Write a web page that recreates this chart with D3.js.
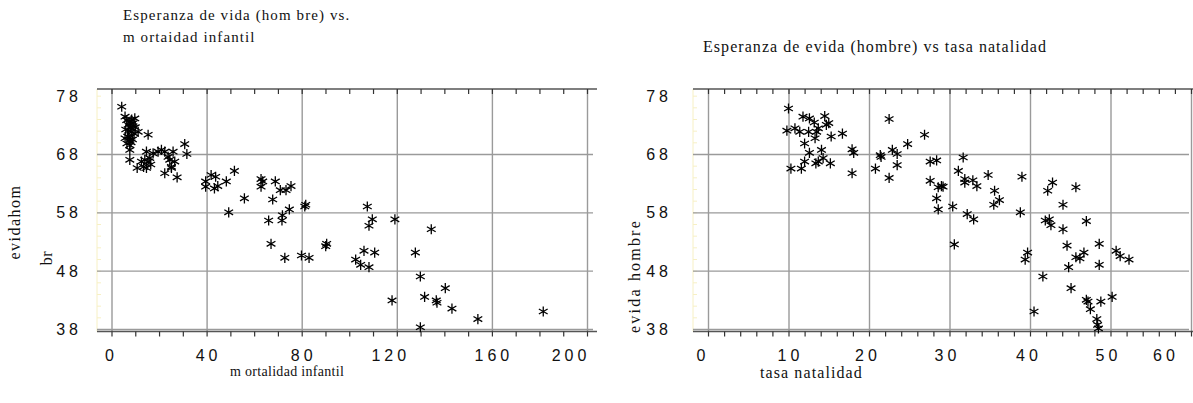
<!DOCTYPE html>
<html><head><meta charset="utf-8">
<script src="https://cdn.jsdelivr.net/npm/d3@7"></script>
<style>body{margin:0;background:#fff}svg{display:block}</style>
</head><body>
<svg id="c" width="1193" height="403"></svg>
<script>
// ---------- data ----------
const mortTicks = [0, 40, 80, 120, 160, 200];
const nataTicks = [0, 10, 20, 30, 40, 50, 60];
const yTicks = [38, 48, 58, 68, 78];
const yGrid = [38, 48, 58, 68];

// Esperanza de vida (hombre) vs mortalidad infantil
const mortalidad = [4.3,5.7,6.4,7.0,7.7,9.1,9.8,8.0,7.2,8.5,9.5,6.8,7.7,8.8,11.2,15.4,5.7,7.7,7.7,7.7,7.7,6.5,8.2,9.0,10.0,6.0,8.5,
  10.8,12.6,14.0,14.7,15.4,14.7,16.1,17.5,19.6,21.0,22.4,23.8,24.5,25.2,25.9,26.6,25.2,22.4,27.6,30.8,31.7,13.5,16.5,
  39.6,39.6,41.9,43.8,43.3,44.7,48.3,51.7,55.9,49.3,
  62.9,63.6,62.9,68.9,71.0,73.4,75.5,67.8,74.8,71.9,71.7,66.1,81.7,81.3,67.1,72.9,79.9,83.1,90.1,90.5,
  107.6,109.7,108.3,119.2,134.5,106.2,110.7,102.7,104.8,108.3,127.8,129.9,140.4,118.0,131.7,136.6,136.9,143.2,154.1,129.9,181.6];
const evidaMort = [76.1,74.4,73.8,73.0,73.5,73.3,74.1,72.5,72.0,71.8,71.5,71.0,70.8,70.5,71.8,71.3,70.7,70.4,69.5,68.7,67.0,69.8,70.0,72.8,72.6,72.2,73.9,
  65.6,66.7,67.0,65.6,66.7,68.4,67.3,68.1,68.4,68.7,68.4,67.5,67.0,65.8,68.4,66.7,65.6,64.7,64.0,69.7,68.0,65.8,66.2,
  63.3,62.4,64.4,64.1,62.1,62.5,63.3,65.1,60.4,58.0,
  63.7,63.3,62.4,63.3,61.8,61.8,62.5,60.2,58.5,57.5,56.6,56.6,59.3,59.0,52.6,50.2,50.6,50.2,52.2,52.6,
  59.0,56.8,55.7,56.8,55.1,51.4,51.1,49.9,49.0,48.6,51.1,47.0,45.0,42.9,43.5,42.9,42.5,41.5,39.7,38.3,41.0];

// Esperanza de vida (hombre) vs tasa natalidad
const natalidad = [10.0,9.8,10.3,10.8,11.4,11.8,11.6,12.0,12.0,12.5,12.6,12.6,13.2,13.3,13.5,13.7,13.4,13.7,14.1,14.3,14.5,14.7,15.0,15.2,15.3,16.7,17.9,18.1,17.9,
  20.8,21.4,21.5,22.5,22.5,22.9,23.5,23.5,24.8,26.9,27.6,28.4,27.6,28.6,29.0,29.2,28.4,28.6,30.4,30.6,31.7,31.1,31.9,31.9,32.2,33.0,32.9,33.4,34.8,35.6,35.5,36.2,
  39.0,38.8,39.7,39.4,40.5,41.6,42.2,42.8,41.9,42.4,42.6,44.1,44.1,44.6,44.8,45.1,45.7,45.7,46.2,46.7,47.0,47.0,47.2,47.5,48.6,48.6,48.8,48.3,48.4,48.5,50.2,50.7,51.2,52.3];
const evidaNata = [75.8,72.0,65.5,72.4,71.8,74.4,65.5,69.8,66.7,71.8,74.1,68.2,73.4,70.7,71.8,72.4,66.4,66.7,68.7,67.3,74.5,73.0,73.3,66.4,71.0,71.5,68.8,68.2,64.7,
  65.5,67.8,67.5,74.0,63.9,68.7,68.0,66.1,69.7,71.3,66.7,66.9,63.4,62.3,62.5,62.4,60.4,58.5,59.0,52.5,67.4,65.1,63.7,63.1,57.7,56.8,63.5,62.5,64.4,61.7,59.3,60.1,
  64.1,58.0,51.1,49.9,41.0,47.0,61.7,63.1,56.6,56.8,55.8,59.3,55.1,52.3,48.6,45.0,62.3,50.3,50.1,51.1,56.5,43.0,42.7,41.4,52.6,49.0,42.7,39.7,38.7,38.1,43.5,51.4,50.5,49.9];

// ---------- drawing ----------
const svg = d3.select("#c");
const TOP = 89, BOT = 331.5;
const y = d3.scaleLinear().domain([38, 68]).range([329, 154]);

const asterisk = d3.symbolAsterisk || {
  draw(ctx, size) {
    const r = Math.sqrt(size) * 0.6;
    for (let a = 0; a < 3; a++) {
      const t = Math.PI / 2 + a * Math.PI / 3;
      ctx.moveTo(r * Math.cos(t), r * Math.sin(t));
      ctx.lineTo(-r * Math.cos(t), -r * Math.sin(t));
    }
  }
};
const markPath = d3.symbol(asterisk, 72)();

function panel(o) {
  const g = svg.append("g");
  const x = d3.scaleLinear().domain(o.xDomain).range(o.xRange);
  const minor = d3.range(o.xDomain[0], o.xDomain[1] + 0.001, o.minorStep);

  g.append("line").attr("x1", o.left).attr("x2", o.left).attr("y1", TOP).attr("y2", BOT)
    .attr("stroke", "#f7f0c4").attr("stroke-width", 1);
  g.append("g").attr("transform", `translate(${o.left},0)`)
    .call(d3.axisRight(y).tickValues(d3.range(38, 79.5, 2)).tickSize(4).tickFormat(""))
    .call(s => s.select(".domain").remove())
    .selectAll("line").attr("stroke", "#f7f0c4");

  g.append("g").attr("transform", `translate(${o.left},0)`)
    .call(d3.axisLeft(y).tickValues(yGrid).tickSize(-(o.right - o.left - 4)).tickFormat(""))
    .call(s => s.select(".domain").remove())
    .selectAll("line").attr("stroke", "#9a9a9a").attr("stroke-width", 1.4);

  g.append("g").attr("transform", `translate(0,${BOT})`)
    .call(d3.axisBottom(x).tickValues(o.ticks).tickSize(-(BOT - TOP)).tickFormat(""))
    .call(s => s.select(".domain").remove())
    .selectAll("line").attr("stroke", "#9a9a9a").attr("stroke-width", 1.4);

  [[TOP, d3.axisTop, -5], [BOT, d3.axisBottom, 5]].forEach(([yy, ax, ts]) => {
    g.append("line").attr("x1", o.left).attr("x2", o.right).attr("y1", yy).attr("y2", yy)
      .attr("stroke", "#555").attr("stroke-width", 1.6);
    g.append("g").attr("transform", `translate(0,${yy})`)
      .call(ax(x).tickValues(minor).tickSize(ts).tickFormat(""))
      .call(s => s.select(".domain").remove())
      .selectAll("line").attr("stroke", "#333").attr("stroke-width", 1.2);
  });

  g.selectAll("text.xt").data(o.ticks).join("text").attr("class", "xt")
    .attr("x", (d, i) => x(d) + (o.labelShift[i] || 0) + 2)
    .attr("y", 361)
    .attr("text-anchor", "middle")
    .style("font-family", "'Liberation Sans', Arial, sans-serif")
    .style("font-size", "16px").style("letter-spacing", "4px").attr("fill", "#111")
    .text(d => d);

  g.selectAll("text.yt").data(yTicks).join("text").attr("class", "yt")
    .attr("x", o.yLabelX).attr("y", d => y(d) + 6)
    .attr("text-anchor", "end")
    .style("font-family", "'Liberation Sans', Arial, sans-serif")
    .style("font-size", "16px").style("letter-spacing", "4px").attr("fill", "#111")
    .text(d => d);

  g.selectAll("path.pt").data(o.xs.map((v, i) => [v, o.ys[i]])).join("path").attr("class", "pt")
    .attr("d", markPath)
    .attr("transform", d => `translate(${x(d[0])},${y(d[1])})`)
    .attr("fill", "none").attr("stroke", "#000").attr("stroke-width", 1.3);
  return g;
}

panel({ xDomain: [0, 200], xRange: [111.5, 587], left: 97, right: 597, ticks: mortTicks, minorStep: 10,
        xs: mortalidad, ys: evidaMort, yLabelX: 82, labelShift: [-2, 0, 0, -8, 0, -18] });
panel({ xDomain: [0, 60], xRange: [708, 1191], left: 693, right: 1193, ticks: nataTicks, minorStep: 2,
        xs: natalidad, ys: evidaNata, yLabelX: 672, labelShift: [-7, 0, -3, -4, -3, -4, -27] });

const serif = "'Liberation Serif', 'Times New Roman', serif";
function txt(x, yy, s, size, ls, rot) {
  const t = svg.append("text").attr("x", x).attr("y", yy).text(s)
    .style("font-family", serif).style("font-size", size + "px")
    .style("letter-spacing", ls + "px").attr("fill", "#111");
  if (rot) t.attr("transform", `rotate(-90,${x},${yy})`).attr("text-anchor", "middle");
  return t;
}
txt(123, 20, "Esperanza de vida (hom bre) vs.", 15, 1.1);
txt(123, 42, "m ortaidad infantil", 15, 1.1);
txt(703, 52, "Esperanza de evida (hombre) vs tasa natalidad", 16, 1.05);
txt(230, 376, "m ortalidad infantil", 14, 0.3);
txt(760, 378, "tasa natalidad", 16, 1.1);
txt(20, 222, "evidahom", 16, 1.5, true);
txt(52, 258, "br", 16, 0.5, true);
txt(640, 276, "evida hombre", 16, 2.2, true);
</script>
</body></html>
